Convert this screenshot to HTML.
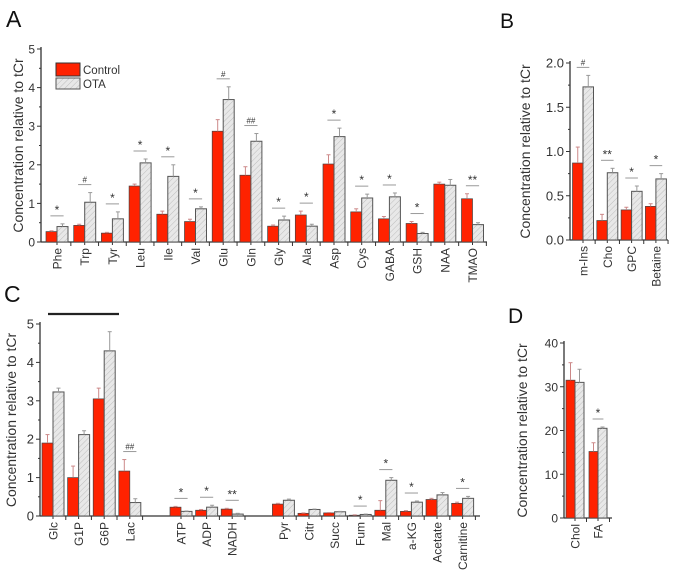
<!DOCTYPE html>
<html><head><meta charset="utf-8">
<style>
html,body{margin:0;padding:0;background:#fff;}
svg{display:block;font-family:"Liberation Sans",Arial,sans-serif;}
</style></head>
<body>
<svg id="chart" width="676" height="580" viewBox="0 0 676 580" xmlns="http://www.w3.org/2000/svg">
<defs>
<pattern id="hatch" patternUnits="userSpaceOnUse" width="4" height="4" patternTransform="rotate(45)">
<rect width="4" height="4" fill="#e8e8e8"/>
<line x1="0" y1="0" x2="0" y2="4" stroke="#bdbdbd" stroke-width="1"/>
</pattern>
</defs>
<text x="6" y="27" font-size="23" fill="#111">A</text>
<text x="500" y="28" font-size="21" fill="#111">B</text>
<text x="4" y="302" font-size="23" fill="#111">C</text>
<text x="508" y="323" font-size="21" fill="#111">D</text>
<line x1="48" y1="314" x2="119" y2="314" stroke="#222" stroke-width="2.2"/>
<g>
<rect x="56" y="63" width="24" height="13" fill="#ff2200" stroke="#333" stroke-width="1"/>
<text x="83" y="74" font-size="11.5" fill="#333">Control</text>
<rect x="56" y="78" width="24" height="11" fill="url(#hatch)" stroke="#555" stroke-width="1"/>
<text x="83" y="88" font-size="11.5" fill="#333">OTA</text>
</g>
</svg>
<script>
// Panel A data
const catsA = ["Phe","Trp","Tyr","Leu","Ile","Val","Glu","Gln","Gly","Ala","Asp","Cys","GABA","GSH","NAA","TMAO"];
const ctrlA = [0.27,0.43,0.23,1.45,0.72,0.53,2.87,1.73,0.41,0.70,2.02,0.78,0.60,0.48,1.50,1.12];
const otaA  = [0.40,1.03,0.60,2.05,1.70,0.86,3.69,2.61,0.57,0.41,2.73,1.14,1.17,0.22,1.47,0.45];
const ctrlErrA = [0.02,0.03,0.02,0.05,0.08,0.06,0.30,0.22,0.03,0.10,0.24,0.08,0.06,0.05,0.05,0.13];
const otaErrA  = [0.07,0.25,0.18,0.10,0.30,0.05,0.33,0.20,0.10,0.05,0.22,0.10,0.10,0.03,0.15,0.05];
const sigA = ["*","#","*","*","*","*","#","##","*","*","*","*","*","*","","**"];
const ticksA = [0,1,2,3,4,5];
// Panel B data
const catsB = ["m-Ins","Cho","GPC","Betaine"];
const ctrlB = [0.87,0.22,0.34,0.38];
const otaB  = [1.73,0.76,0.55,0.69];
const ctrlErrB = [0.18,0.07,0.03,0.03];
const otaErrB  = [0.13,0.05,0.06,0.06];
const sigB = ["#","**","*","*"];
const ticksB = ["0.0","0.5","1.0","1.5","2.0"];
// Panel C data
const catsC = ["Glc","G1P","G6P","Lac","ATP","ADP","NADH","Pyr","Citr","Succ","Fum","Mal","a-KG","Acetate","Carnitine"];
const slotC = [0,1,2,3,5,6,7,9,10,11,12,13,14,15,16];
const ctrlC = [1.90,1.00,3.05,1.17,0.23,0.15,0.18,0.31,0.07,0.08,0.02,0.15,0.12,0.43,0.33];
const otaC  = [3.23,2.12,4.30,0.35,0.12,0.23,0.05,0.41,0.17,0.11,0.04,0.93,0.36,0.55,0.46];
const ctrlErrC = [0.22,0.30,0.28,0.30,0.02,0.02,0.02,0.02,0.01,0.01,0.01,0.25,0.02,0.03,0.03];
const otaErrC  = [0.10,0.10,0.50,0.10,0.01,0.05,0.02,0.03,0.01,0.01,0.01,0.07,0.03,0.06,0.05];
const sigC = ["","","","##","*","*","**","","","","*","*","*","","*"];
const ticksC = [0,1,2,3,4,5];
// Panel D data
const catsD = ["Chol","FA"];
const ctrlD = [31.5,15.2];
const otaD  = [31.0,20.5];
const ctrlErrD = [4.0,2.0];
const otaErrD  = [3.0,0.3];
const sigD = ["","*"];
const ticksD = [0,10,20,30,40];

const NS = "http://www.w3.org/2000/svg";
const svg = document.getElementById("chart");
function mk(tag, attrs, parent){
  const e = document.createElementNS(NS, tag);
  for (const k in attrs) e.setAttribute(k, attrs[k]);
  (parent||svg).appendChild(e);
  return e;
}
function drawPanel(p){
  const g = mk("g", {});
  
  
  const y = v => p.y0 - v / p.max * (p.y0 - p.yTop);
  const x = i => p.x0c + p.slots[i] * p.step;
  const ya = mk("line", {x1:p.ax, y1:p.yTop-2, x2:p.ax, y2:p.y0, stroke:"#333","stroke-width":1.3}, g);
  
  
  const xa = mk("line", {x1:p.ax, y1:p.y0, x2:p.axEnd, y2:p.y0, stroke:"#333","stroke-width":1.3}, g);
  
  
  p.ticks.forEach((t, k) => {
    const v = parseFloat(t);
    const ty = y(v);
    mk("line", {x1:p.ax-4, y1:ty, x2:p.ax, y2:ty, stroke:"#333","stroke-width":1}, g);
    if (k < p.ticks.length-1) {
      const my = y(v + (parseFloat(p.ticks[1]) - parseFloat(p.ticks[0]))/2);
      mk("line", {x1:p.ax-2, y1:my, x2:p.ax, y2:my, stroke:"#333","stroke-width":1}, g);
    }
    const tl = mk("text", {x:p.ax-6, y:ty+4.5, "font-size":p.tickFs, "text-anchor":"end", fill:"#333"}, g);
    tl.textContent = t;
    
    
  });
  const yt = mk("text", {x:p.titleX, y:(p.y0+p.yTop)/2, "font-size":p.titleFs, "text-anchor":"middle", fill:"#333",
    transform:`rotate(-90 ${p.titleX} ${(p.y0+p.yTop)/2})`}, g);
  yt.textContent = "Concentration relative to tCr";
  
  
  const bw = p.bw;
  p.cats.forEach((c, i) => {
    const cx = x(i);
    mk("line", {x1:cx+p.step/2, y1:p.y0, x2:cx+p.step/2, y2:p.y0+4, stroke:"#333","stroke-width":1}, g);
    mk("line", {x1:cx, y1:p.y0, x2:cx, y2:p.y0+3, stroke:"#333","stroke-width":1}, g);
    const cy = y(p.ctrl[i]);
    const rb = mk("rect", {x:cx-bw, y:cy, width:bw, height:p.y0-cy, fill:"#ff2200", stroke:"#444","stroke-width":0.7}, g);
    
    
    const ce = y(p.ctrl[i] + p.ctrlErr[i]);
    mk("line", {x1:cx-bw/2, y1:ce, x2:cx-bw/2, y2:cy, stroke:"#c88","stroke-width":1}, g);
    mk("line", {x1:cx-bw/2-2, y1:ce, x2:cx-bw/2+2, y2:ce, stroke:"#c88","stroke-width":1}, g);
    const oy = y(p.ota[i]);
    const ob = mk("rect", {x:cx, y:oy, width:bw, height:p.y0-oy, fill:"url(#hatch)", stroke:"#555","stroke-width":1}, g);
    
    
    const oe = y(p.ota[i] + p.otaErr[i]);
    mk("line", {x1:cx+bw/2, y1:oe, x2:cx+bw/2, y2:oy, stroke:"#999","stroke-width":1}, g);
    mk("line", {x1:cx+bw/2-2, y1:oe, x2:cx+bw/2+2, y2:oe, stroke:"#999","stroke-width":1}, g);
    if (p.sig[i]) {
      const top = Math.min(ce, oe) - 8;
      mk("line", {x1:cx-bw*0.6, y1:top, x2:cx+bw*0.6, y2:top, stroke:"#999","stroke-width":1}, g);
      const s = mk("text", {x:cx, y:top-2, "font-size":p.sig[i].includes("#")?8:12, "text-anchor":"middle", fill:"#333"}, g);
      s.textContent = p.sig[i];
      
      
    }
    const ly = p.y0 + 6;
    const cl = mk("text", {x:cx+4.5, y:ly, "font-size":p.catFs, "text-anchor":"end", fill:"#333",
      transform:`rotate(-90 ${cx+4.5} ${ly})`}, g);
    cl.textContent = c;
    
    
  });
}
drawPanel({id:"a", cats:catsA, ctrl:ctrlA, ota:otaA, ctrlErr:ctrlErrA, otaErr:otaErrA, sig:sigA, ticks:ticksA,
  slots:catsA.map((_,i)=>i), max:5, y0:242, yTop:49, ax:41, axEnd:487, x0c:57, step:27.7, bw:11,
  titleX:23, tickFs:12, titleFs:14, catFs:12});
drawPanel({id:"b", cats:catsB, ctrl:ctrlB, ota:otaB, ctrlErr:ctrlErrB, otaErr:otaErrB, sig:sigB, ticks:ticksB,
  slots:catsB.map((_,i)=>i), max:2, y0:240, yTop:63, ax:570, axEnd:668, x0c:583, step:24.3, bw:10.5,
  titleX:530, tickFs:13, titleFs:14, catFs:12});
drawPanel({id:"c", cats:catsC, ctrl:ctrlC, ota:otaC, ctrlErr:ctrlErrC, otaErr:otaErrC, sig:sigC, ticks:ticksC,
  slots:slotC, max:5, y0:516, yTop:324, ax:40, axEnd:480, x0c:53, step:25.6, bw:11,
  titleX:16, tickFs:13, titleFs:14, catFs:12});
drawPanel({id:"d", cats:catsD, ctrl:ctrlD, ota:otaD, ctrlErr:ctrlErrD, otaErr:otaErrD, sig:sigD, ticks:ticksD,
  slots:[0,1], max:40, y0:518, yTop:343, ax:564, axEnd:612, x0c:575, step:23, bw:9,
  titleX:527, tickFs:12, titleFs:14, catFs:12});
</script>
</body></html>
